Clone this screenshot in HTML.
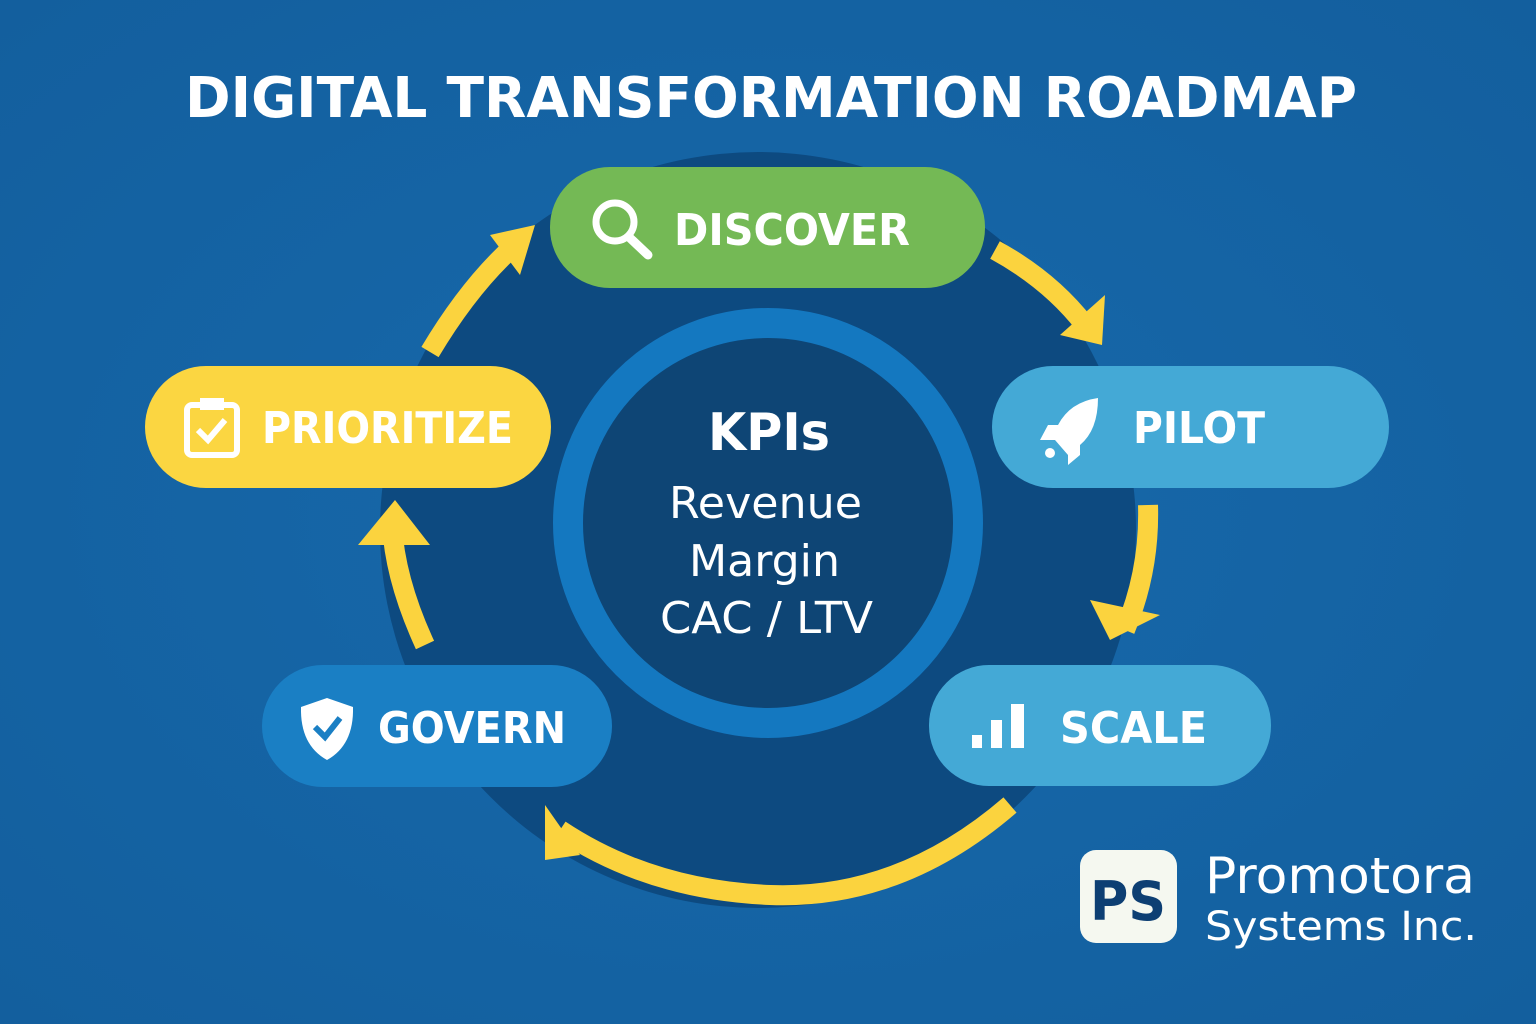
<!DOCTYPE html>
<html><head><meta charset="utf-8"><style>
html,body{margin:0;padding:0;width:1536px;height:1024px;overflow:hidden;background:#1565a3}
svg{display:block}
text{font-family:"DejaVu Sans","Liberation Sans",sans-serif}
</style></head><body>
<svg width="1536" height="1024" viewBox="0 0 1536 1024" xmlns="http://www.w3.org/2000/svg">
<defs>
<radialGradient id="bg" cx="50%" cy="50%" r="70%"><stop offset="0" stop-color="#1769ab"/><stop offset="1" stop-color="#135f9e"/></radialGradient>
</defs>
<rect width="1536" height="1024" fill="url(#bg)"/>
<text x="185" y="117" font-size="56" font-weight="bold" fill="#fff" textLength="1172" lengthAdjust="spacingAndGlyphs">DIGITAL TRANSFORMATION ROADMAP</text>
<circle cx="758" cy="530" r="378" fill="#0d4a80"/>
<circle cx="768" cy="523" r="200" fill="#0e4575" stroke="#1478c0" stroke-width="30"/>
<text x="708" y="450" font-size="52" font-weight="bold" fill="#fff" textLength="122" lengthAdjust="spacingAndGlyphs">KPIs</text>
<text x="669" y="518" font-size="44" fill="#fff" textLength="193" lengthAdjust="spacingAndGlyphs">Revenue</text>
<text x="689" y="576" font-size="44" fill="#fff" textLength="151" lengthAdjust="spacingAndGlyphs">Margin</text>
<text x="660" y="633" font-size="44" fill="#fff" textLength="213" lengthAdjust="spacingAndGlyphs">CAC / LTV</text>
<g fill="none" stroke="#fbd33e" stroke-width="20" stroke-linecap="butt">
<path d="M995 250 Q1050 280 1085 325"/>
<path d="M1148 505 Q1150 570 1125 630"/>
<path d="M1010 805 Q900 900 770 895 Q650 890 560 830"/>
<path d="M425 645 Q395 580 392 525"/>
<path d="M430 352 Q470 285 515 245"/>
</g>
<g fill="#fbd33e">
<polygon points="1060,335 1105,295 1102,345"/>
<polygon points="1090,600 1160,615 1110,640"/>
<polygon points="545,805 580,855 545,860"/>
<polygon points="358,545 395,500 430,545"/>
<polygon points="490,235 535,225 520,275"/>
</g>
<rect x="550" y="167" width="435" height="121" rx="60" fill="#74b955"/>
<circle cx="615" cy="222" r="19" fill="none" stroke="#fff" stroke-width="7"/>
<line x1="630" y1="238" x2="648" y2="255" stroke="#fff" stroke-width="9" stroke-linecap="round"/>
<text x="674" y="245" font-size="44" font-weight="bold" fill="#fff" textLength="236" lengthAdjust="spacingAndGlyphs">DISCOVER</text>
<rect x="992" y="366" width="397" height="122" rx="61" fill="#44a9d6"/>
<path d="M1098 398 Q1070 402 1058 425 L1048 425 L1040 440 L1055 440 L1068 455 L1068 465 L1080 455 L1080 445 Q1098 430 1098 398Z" fill="#fff"/>
<circle cx="1050" cy="453" r="5" fill="#fff"/>
<text x="1133" y="443" font-size="44" font-weight="bold" fill="#fff" textLength="132" lengthAdjust="spacingAndGlyphs">PILOT</text>
<rect x="929" y="665" width="342" height="121" rx="60" fill="#44a9d6"/>
<rect x="972" y="735" width="10" height="13" fill="#fff"/><rect x="991" y="720" width="11" height="28" fill="#fff"/><rect x="1011" y="704" width="13" height="44" fill="#fff"/>
<text x="1060" y="743" font-size="44" font-weight="bold" fill="#fff" textLength="147" lengthAdjust="spacingAndGlyphs">SCALE</text>
<rect x="262" y="665" width="350" height="122" rx="61" fill="#1a7fc4"/>
<path d="M327 698 L353 707 Q354 745 327 760 Q300 745 301 707Z" fill="#fff"/>
<path d="M315 727 L325 737 L340 718" fill="none" stroke="#1a7fc4" stroke-width="6"/>
<text x="378" y="743" font-size="44" font-weight="bold" fill="#fff" textLength="188" lengthAdjust="spacingAndGlyphs">GOVERN</text>
<rect x="145" y="366" width="406" height="122" rx="61" fill="#fbd641"/>
<rect x="187" y="405" width="50" height="50" rx="5" fill="none" stroke="#fff" stroke-width="6"/>
<rect x="200" y="398" width="24" height="12" fill="#fff"/>
<path d="M198 430 L208 440 L225 420" fill="none" stroke="#fff" stroke-width="6"/>
<text x="262" y="443" font-size="44" font-weight="bold" fill="#fff" textLength="251" lengthAdjust="spacingAndGlyphs">PRIORITIZE</text>
<rect x="1080" y="850" width="97" height="93" rx="16" fill="#f5f8f0"/>
<text x="1090" y="920" font-size="54" font-weight="bold" fill="#0d3f73" textLength="76" lengthAdjust="spacingAndGlyphs">PS</text>
<text x="1205" y="893" font-size="50" fill="#fff" textLength="270" lengthAdjust="spacingAndGlyphs">Promotora</text>
<text x="1205" y="940" font-size="40" fill="#fff" textLength="272" lengthAdjust="spacingAndGlyphs">Systems Inc.</text>
</svg>
</body></html>
